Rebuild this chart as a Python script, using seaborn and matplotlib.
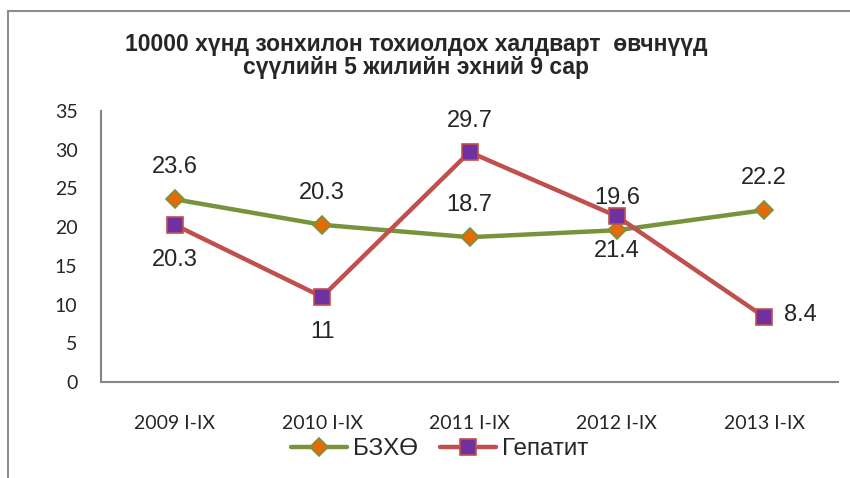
import numpy as np
import pandas as pd
import matplotlib
matplotlib.use('Agg')
import matplotlib.pyplot as plt
from matplotlib.patches import Rectangle
import seaborn as sns

categories = ['2009 I-IX', '2010 I-IX', '2011 I-IX', '2012 I-IX', '2013 I-IX']
bzxo = [23.6, 20.3, 18.7, 19.6, 22.2]
hepatit = [20.3, 11, 29.7, 21.4, 8.4]
bzxo_labels = ['23.6', '20.3', '18.7', '19.6', '22.2']
hepatit_labels = ['20.3', '11', '29.7', '21.4', '8.4']
# where each red label sits relative to its point
hepatit_pos = ['below', 'below', 'above', 'below', 'right']
series_names = ['БЗХӨ', 'Гепатит']
title = '10000 хүнд зонхилон тохиолдох халдварт  өвчнүүд\nсүүлийн 5 жилийн эхний 9 сар'

sns.set_style('white')
plt.rcParams['font.family'] = ['Liberation Sans', 'DejaVu Sans']

df = pd.DataFrame({'cat': categories * 2,
                   'val': bzxo + hepatit,
                   'series': [series_names[0]] * 5 + [series_names[1]] * 5})

fig = plt.figure(figsize=(8.5, 4.78), dpi=100)
ax = fig.add_axes([101/850, 1-382/478, 737/850, 271/478])

green = '#77933C'
red = '#C0504D'
sns.lineplot(data=df[df.series == series_names[0]], x='cat', y='val', ax=ax,
             color=green, linewidth=3.2, marker='D', markersize=9,
             markerfacecolor='#E36C09', markeredgecolor=green, markeredgewidth=1.2,
             label=series_names[0])
sns.lineplot(data=df[df.series == series_names[1]], x='cat', y='val', ax=ax,
             color=red, linewidth=3.2, marker='s', markersize=11,
             markerfacecolor='#7030A0', markeredgecolor=red, markeredgewidth=1.2,
             label=series_names[1])

ax.set_xlim(-0.5, 4.5)
ax.set_ylim(0, 35)
ax.set_yticks(np.arange(0, 36, 5))
ax.set_xlabel('')
ax.set_ylabel('')
for s in ['top', 'right']:
    ax.spines[s].set_visible(False)
for s in ['left', 'bottom']:
    ax.spines[s].set_color('#868686')
    ax.spines[s].set_linewidth(1.5)
ax.tick_params(axis='y', length=0, pad=17, labelsize=14)
ax.tick_params(axis='x', length=0, pad=24, labelsize=14)
for lab in ax.get_xticklabels() + ax.get_yticklabels():
    lab.set_family(['Lato', 'DejaVu Sans'])

for i, (v, t) in enumerate(zip(bzxo, bzxo_labels)):
    ax.annotate(t, (i, v), xytext=(0, 32), textcoords='offset pixels',
                ha='center', va='center', fontsize=17)
offsets = {'above': (0, 31, 'center'), 'below': (0, -35, 'center'), 'right': (20, 2, 'left')}
for i, (v, t, p) in enumerate(zip(hepatit, hepatit_labels, hepatit_pos)):
    dx, dy, ha = offsets[p]
    ax.annotate(t, (i, v), xytext=(dx, dy), textcoords='offset pixels',
                ha=ha, va='center', fontsize=17)

ax.legend(loc='center', bbox_to_anchor=(440/850, 1-449/478), bbox_transform=fig.transFigure,
          ncol=2, frameon=False, fontsize=17.5, handlelength=2.3, columnspacing=0.9,
          handletextpad=0.25)

fig.text(416/850, 1-56/478, title, ha='center', va='center', fontsize=16.5,
         fontweight='bold', linespacing=1.0)

# outer chart border (only top and left edges visible in the crop)
fig.patches.append(Rectangle((8/850, -0.1), 1.0, 1-11/478+0.1, transform=fig.transFigure,
                             fill=False, edgecolor='#8c8c8c', linewidth=1.5))

fig.savefig('out.png', dpi=100)
